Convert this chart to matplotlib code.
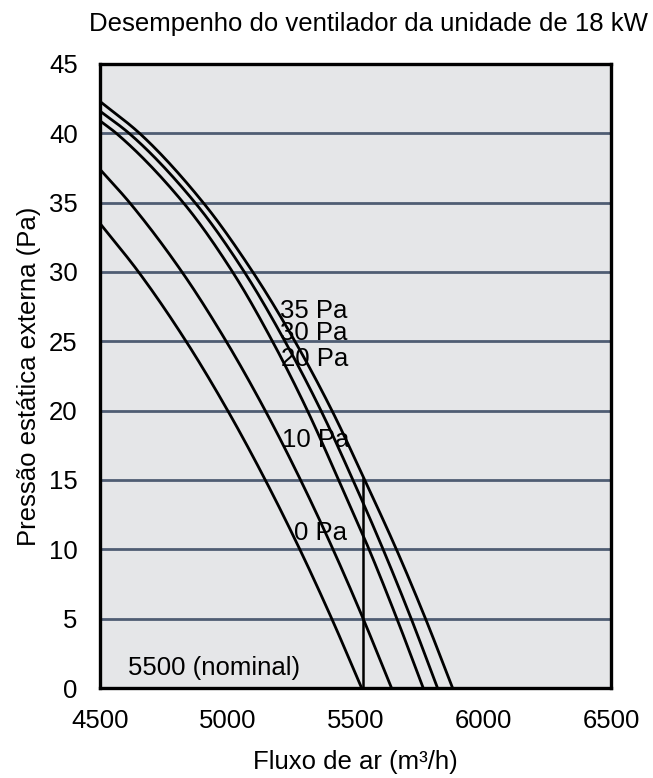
import matplotlib
matplotlib.use("Agg")
import matplotlib.pyplot as plt
import numpy as np

plt.rcParams['font.family'] = ['Liberation Sans', 'DejaVu Sans']

# Fan curves: flow (m3/h) at which each curve crosses the listed pressures (Pa)
curve_labels = ["35 Pa", "30 Pa", "20 Pa", "10 Pa", "0 Pa"]
flow_35 = [4500, 4655, 4904, 5098, 5263, 5408, 5536, 5660, 5774, 5880]
pres_35 = [42.3, 40, 35, 30, 25, 20, 15, 10, 5, 0]
flow_30 = [4500, 4614, 4872, 5065, 5224, 5365, 5490, 5608, 5718, 5821]
pres_30 = [41.6, 40, 35, 30, 25, 20, 15, 10, 5, 0]
flow_20 = [4500, 4564, 4826, 5019, 5175, 5312, 5434, 5553, 5662, 5765]
pres_20 = [40.9, 40, 35, 30, 25, 20, 15, 10, 5, 0]
flow_10 = [4500, 4616, 4821, 4994, 5147, 5285, 5412, 5530, 5641]
pres_10 = [37.4, 35, 30, 25, 20, 15, 10, 5, 0]
flow_0 = [4500, 4651, 4837, 5000, 5147, 5282, 5407, 5524]
pres_0 = [33.5, 30, 25, 20, 15, 10, 5, 0]

# label anchor positions (flow, pressure)
label_flow = [5205, 5205, 5208, 5212, 5258]
label_pres = [27.2, 25.6, 23.7, 17.9, 11.2]

nominal_flow = 5530
nominal_top = 15.1
nominal_text = "5500 (nominal)"

x_ticks = [4500, 5000, 5500, 6000, 6500]
y_ticks = [0, 5, 10, 15, 20, 25, 30, 35, 40, 45]

title = "Desempenho do ventilador da unidade de 18 kW"
xlabel = "Fluxo de ar (m³/h)"
ylabel = "Pressão estática externa (Pa)"


def smooth_line(xs, ys, n=30):
    """Monotone cubic (Fritsch-Carlson) rendering of the line through the read points."""
    x = np.asarray(xs, float)
    y = np.asarray(ys, float)
    h = np.diff(x)
    d = np.diff(y) / h
    m = np.zeros_like(x)
    m[0], m[-1] = d[0], d[-1]
    for k in range(1, len(x) - 1):
        if d[k - 1] * d[k] > 0:
            w1 = 2 * h[k] + h[k - 1]
            w2 = h[k] + 2 * h[k - 1]
            m[k] = (w1 + w2) / (w1 / d[k - 1] + w2 / d[k])
    px, py = [], []
    for k in range(len(x) - 1):
        t = np.linspace(0, 1, n, endpoint=(k == len(x) - 2))
        h00 = 2 * t**3 - 3 * t**2 + 1
        h10 = t**3 - 2 * t**2 + t
        h01 = -2 * t**3 + 3 * t**2
        h11 = t**3 - t**2
        px.append(x[k] + t * h[k])
        py.append(h00 * y[k] + h10 * h[k] * m[k] + h01 * y[k + 1] + h11 * h[k] * m[k + 1])
    return np.concatenate(px), np.concatenate(py)


fs = 18.5
fig = plt.figure(figsize=(6.53, 7.78), dpi=100)
ax = fig.add_axes([100/653, 1-688/778, 511/653, 624/778])
ax.set_facecolor('#e5e6e8')

for y in y_ticks[1:-1]:
    ax.axhline(y, color='#4f5d73', lw=2.0, zorder=1)

series = [(flow_35, pres_35), (flow_30, pres_30), (flow_20, pres_20),
          (flow_10, pres_10), (flow_0, pres_0)]
for fx, py in series:
    sx, sy = smooth_line(fx, py)
    ax.plot(sx, sy, color='black', lw=2.0, zorder=3, solid_capstyle='butt')

ax.plot([nominal_flow, nominal_flow], [0, nominal_top], color='black', lw=1.8, zorder=3)

for lab, lx, ly in zip(curve_labels, label_flow, label_pres):
    ax.text(lx, ly, lab, fontsize=fs, va='center', ha='left', zorder=4)
ax.text(4610, 1.45, nominal_text, fontsize=fs, va='center', ha='left', zorder=4)

ax.set_xlim(4500, 6500)
ax.set_ylim(0, 45)
ax.set_xticks(x_ticks)
ax.set_yticks(y_ticks)
ax.tick_params(length=0, labelsize=fs)
ax.tick_params(axis='y', pad=16)
ax.tick_params(axis='x', pad=15)
for s in ax.spines.values():
    s.set_linewidth(2.4)
    s.set_color('black')
    s.set_zorder(5)

ax.set_xlabel(xlabel, fontsize=fs)
ax.xaxis.set_label_coords(0.5, -0.099)
ax.set_ylabel(ylabel, fontsize=fs)
ax.yaxis.set_label_coords(-0.115, 0.5)
fig.text(368/653, 1-24/778, title, fontsize=fs, ha='center', va='center')

fig.savefig("out.png", dpi=100)
